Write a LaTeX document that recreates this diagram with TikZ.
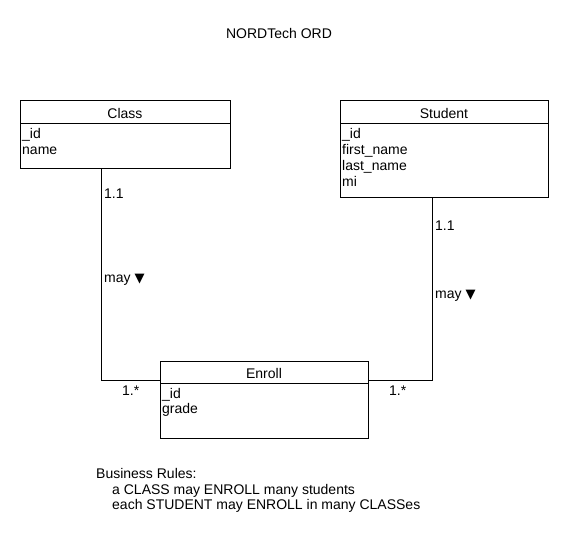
\documentclass[tikz,border=0pt]{standalone}
\usepackage{fontspec}
\setmainfont{Liberation Sans}
\newfontfamily\symfont{DejaVu Sans}
\begin{document}
\begin{tikzpicture}[x=1pt,y=-1pt,font=\fontsize{14}{16}\selectfont]
\tikzset{
  box/.style={draw, line width=1pt, anchor=north west, inner sep=0pt},
  txt/.style={anchor=base west, inner sep=0pt},
  ctr/.style={anchor=base, inner sep=0pt},
  conn/.style={line width=1pt}
}
\newcommand{\dtri}{{\symfont\fontsize{13}{16}\selectfont ▼}}
\useasboundingbox[fill=white] (0,0) rectangle (570,550);
\node[ctr] (title) at (279,38) {NORDTech ORD};
% Class
\node[box, minimum width=210pt, minimum height=68pt] (class) at (20,100) {};
\draw[line width=1pt] ([yshift=-23pt]class.north west) -- ([yshift=-23pt]class.north east);
\node[ctr] (classh) at (125,118) {Class};
\node[txt] (classa1) at (22,138) {\_id};
\node[txt] (classa2) at (22,154) {name};
% Student
\node[box, minimum width=208pt, minimum height=97pt] (student) at (340,100) {};
\draw[line width=1pt] ([yshift=-23pt]student.north west) -- ([yshift=-23pt]student.north east);
\node[ctr] (studenth) at (444,118) {Student};
\node[txt] (stua1) at (342,138) {\_id};
\node[txt] (stua2) at (342,154) {first\_name};
\node[txt] (stua3) at (342,170) {last\_name};
\node[txt] (stua4) at (342,186) {mi};
% Enroll
\node[box, minimum width=208pt, minimum height=77pt] (enroll) at (160,361) {};
\draw[line width=1pt] ([yshift=-22pt]enroll.north west) -- ([yshift=-22pt]enroll.north east);
\node[ctr] (enrollh) at (264,378) {Enroll};
\node[txt] (enra1) at (162,398) {\_id};
\node[txt] (enra2) at (162,413) {grade};
% connectors
\coordinate (cj) at (101,380);
\coordinate (sj) at (432,380);
\draw[conn] (class.south -| cj) -- (cj) -- (enroll.west |- cj);
\draw[conn] (student.south -| sj) -- (sj) -- (enroll.east |- sj);
% labels
\node[txt] (l1) at (104,198) {1.1};
\node[txt] (m1) at (104,282) {may \dtri};
\node[txt] (l2) at (435,230) {1.1};
\node[txt] (m2) at (435,298) {may \dtri};
\node[txt] (s1) at (122,395) {1.*};
\node[txt] (s2) at (389,395) {1.*};
% rules
\node[txt] (r1) at (96,478) {Business Rules:};
\node[txt] (r2) at (112,494) {a CLASS may ENROLL many students};
\node[txt] (r3) at (112,509) {each STUDENT may ENROLL in many CLASSes};
\end{tikzpicture}
\end{document}
